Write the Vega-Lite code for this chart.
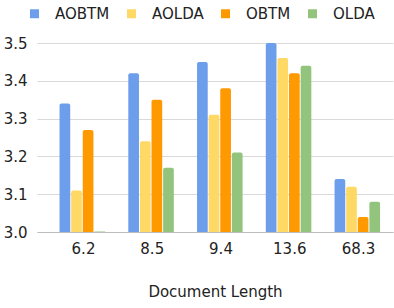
{
  "$schema": "https://vega.github.io/schema/vega-lite/v6.json",
  "width": 356,
  "height": 189,
  "autosize": {"type": "none"},
  "padding": {"left": 37, "top": 43, "right": 1, "bottom": 76},
  "background": "white",
  "config": {
    "view": {"stroke": null},
    "font": "DejaVu Sans",
    "axis": {"labelFont": "DejaVu Sans", "titleFont": "DejaVu Sans", "labelColor": "#222222", "titleColor": "#222222"}
  },
  "data": {
    "values": [
      {"len": "6.2", "model": "AOBTM", "value": 3.34},
      {"len": "6.2", "model": "AOLDA", "value": 3.11},
      {"len": "6.2", "model": "OBTM", "value": 3.27},
      {"len": "6.2", "model": "OLDA", "value": 3.001},
      {"len": "8.5", "model": "AOBTM", "value": 3.42},
      {"len": "8.5", "model": "AOLDA", "value": 3.24},
      {"len": "8.5", "model": "OBTM", "value": 3.35},
      {"len": "8.5", "model": "OLDA", "value": 3.17},
      {"len": "9.4", "model": "AOBTM", "value": 3.45},
      {"len": "9.4", "model": "AOLDA", "value": 3.31},
      {"len": "9.4", "model": "OBTM", "value": 3.38},
      {"len": "9.4", "model": "OLDA", "value": 3.21},
      {"len": "13.6", "model": "AOBTM", "value": 3.5},
      {"len": "13.6", "model": "AOLDA", "value": 3.46},
      {"len": "13.6", "model": "OBTM", "value": 3.42},
      {"len": "13.6", "model": "OLDA", "value": 3.44},
      {"len": "68.3", "model": "AOBTM", "value": 3.14},
      {"len": "68.3", "model": "AOLDA", "value": 3.12},
      {"len": "68.3", "model": "OBTM", "value": 3.04},
      {"len": "68.3", "model": "OLDA", "value": 3.08}
    ]
  },
  "mark": {"type": "bar", "cornerRadiusTopLeft": 2, "cornerRadiusTopRight": 2},
  "encoding": {
    "x": {
      "field": "len", "type": "nominal", "sort": null,
      "scale": {"paddingInner": 0, "paddingOuter": 0.089},
      "axis": {"title": "Document Length", "labelAngle": 0, "labelFontSize": 15, "titleFontSize": 15, "titleFontWeight": "normal", "labelPadding": 9, "labelOffset": 6, "titlePadding": 28, "ticks": false, "domainColor": "#bdbdbd", "grid": false}
    },
    "xOffset": {"field": "model", "type": "nominal", "scale": {"paddingInner": 0.08, "paddingOuter": 1.25, "align": 0.707}},
    "y": {
      "field": "value", "type": "quantitative",
      "scale": {"domain": [3.0, 3.5], "zero": false, "nice": false},
      "axis": {"title": null, "values": [3.0, 3.1, 3.2, 3.3, 3.4, 3.5], "format": ".1f", "labelFontSize": 15, "labelPadding": 10, "ticks": false, "domain": false, "gridColor": "#d9d9d9"}
    },
    "y2": {"datum": 3.0},
    "color": {
      "field": "model", "type": "nominal",
      "scale": {"domain": ["AOBTM", "AOLDA", "OBTM", "OLDA"], "range": ["#6d9eeb", "#ffd966", "#ff9900", "#93c47d"]},
      "legend": {"title": null, "orient": "none", "direction": "horizontal", "legendX": -10, "legendY": -37, "symbolType": "square", "symbolSize": 81, "symbolStrokeWidth": 0, "labelFontSize": 15, "labelFont": "DejaVu Sans", "labelColor": "#222222", "labelOffset": 13, "columnPadding": 14}
    }
  }
}
